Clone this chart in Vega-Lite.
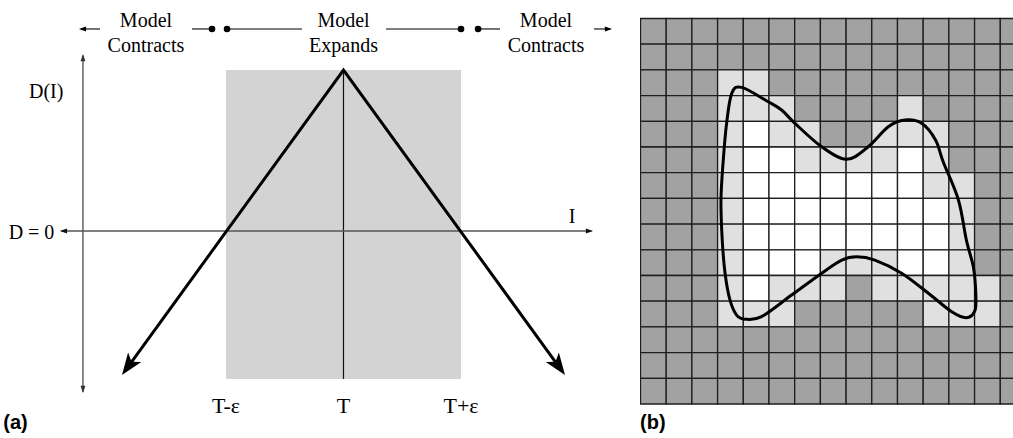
{
  "$schema": "https://vega.github.io/schema/vega-lite/v6.json",
  "padding": 0,
  "spacing": 20,
  "bounds": "flush",
  "background": "white",
  "config": {"view": {"stroke": null}},
  "hconcat": [
    {
      "width": 620,
      "height": 438,
      "encoding": {
        "x": {"field": "i", "type": "quantitative", "scale": {"domain": [-2.923, 2.353], "nice": false, "zero": false}, "axis": null},
        "y": {"field": "d", "type": "quantitative", "scale": {"domain": [-1.286, 1.435], "nice": false, "zero": false}, "axis": null}
      },
      "layer": [
        {
          "data": {"values": [{"i": -1, "i2": 1, "d": -0.919, "d2": 1}]},
          "mark": {"type": "rect", "color": "#d3d3d3"},
          "encoding": {"x2": {"field": "i2"}, "y2": {"field": "d2"}}
        },
        {
          "data": {"values": [{"i": 0, "i2": 0, "d": -0.919, "d2": 1}]},
          "mark": {"type": "rule", "color": "#111111", "strokeWidth": 1.2},
          "encoding": {"x2": {"field": "i2"}, "y2": {"field": "d2"}}
        },
        {
          "data": {"values": [
            {"i": -2.217, "i2": -2.217, "d": 1.09, "d2": -1.0},
            {"i": -2.4, "i2": 2.11, "d": 0, "d2": 0}
          ]},
          "mark": {"type": "rule", "color": "#555555", "strokeWidth": 1.4},
          "encoding": {"x2": {"field": "i2"}, "y2": {"field": "d2"}}
        },
        {
          "data": {"values": [{"i": -2.217, "d": 1.099}]},
          "mark": {"type": "point", "shape": "M0,0 L0.45,1.3 L-0.45,1.3 Z", "size": 120, "angle": 0, "filled": true, "color": "#333333", "opacity": 1, "strokeWidth": 0}
        },
        {
          "data": {"values": [{"i": -2.217, "d": -1.006}]},
          "mark": {"type": "point", "shape": "M0,0 L0.45,1.3 L-0.45,1.3 Z", "size": 120, "angle": 180, "filled": true, "color": "#333333", "opacity": 1, "strokeWidth": 0}
        },
        {
          "data": {"values": [{"i": -2.413, "d": 0}]},
          "mark": {"type": "point", "shape": "M0,0 L0.45,1.3 L-0.45,1.3 Z", "size": 120, "angle": 270, "filled": true, "color": "#111111", "opacity": 1, "strokeWidth": 0}
        },
        {
          "data": {"values": [{"i": 2.123, "d": 0}]},
          "mark": {"type": "point", "shape": "M0,0 L0.45,1.3 L-0.45,1.3 Z", "size": 120, "angle": 90, "filled": true, "color": "#111111", "opacity": 1, "strokeWidth": 0}
        },
        {
          "data": {"values": [
            {"i": -2.072, "i2": -2.235, "d": 1.255, "d2": 1.255},
            {"i": -1.289, "i2": -1.119, "d": 1.255, "d2": 1.255},
            {"i": -0.991, "i2": -0.353, "d": 1.255, "d2": 1.255},
            {"i": 0.362, "i2": 1.0, "d": 1.255, "d2": 1.255},
            {"i": 1.145, "i2": 1.332, "d": 1.255, "d2": 1.255},
            {"i": 2.132, "i2": 2.27, "d": 1.255, "d2": 1.255}
          ]},
          "mark": {"type": "rule", "color": "#000000", "strokeWidth": 1.1},
          "encoding": {"x2": {"field": "i2"}, "y2": {"field": "d2"}}
        },
        {
          "data": {"values": [{"i": -2.251, "d": 1.255}]},
          "mark": {"type": "point", "shape": "M0,0 L0.45,1.3 L-0.45,1.3 Z", "size": 120, "angle": 270, "filled": true, "color": "#000000", "opacity": 1, "strokeWidth": 0}
        },
        {
          "data": {"values": [{"i": 2.285, "d": 1.255}]},
          "mark": {"type": "point", "shape": "M0,0 L0.45,1.3 L-0.45,1.3 Z", "size": 120, "angle": 90, "filled": true, "color": "#000000", "opacity": 1, "strokeWidth": 0}
        },
        {
          "data": {"values": [
            {"i": -1.119, "d": 1.255}, {"i": -0.991, "d": 1.255},
            {"i": 1.0, "d": 1.255}, {"i": 1.145, "d": 1.255}
          ]},
          "mark": {"type": "circle", "size": 44, "color": "#000000", "opacity": 1}
        },
        {
          "data": {"values": [
            {"k": 1, "i": -1.84, "d": -0.85},
            {"k": 2, "i": 0, "d": 1},
            {"k": 3, "i": 1.84, "d": -0.85}
          ]},
          "mark": {"type": "line", "color": "#000000", "strokeWidth": 3, "strokeJoin": "miter", "strokeMiterLimit": 20},
          "encoding": {"order": {"field": "k", "type": "quantitative"}}
        },
        {
          "data": {"values": [{"i": -1.885, "d": -0.894}]},
          "mark": {"type": "point", "shape": "M0,0 L0.75,2 L0,1.5 L-0.75,2 Z", "size": 470, "angle": 215.9, "filled": true, "color": "#000000", "opacity": 1, "strokeWidth": 0}
        },
        {
          "data": {"values": [{"i": 1.885, "d": -0.894}]},
          "mark": {"type": "point", "shape": "M0,0 L0.75,2 L0,1.5 L-0.75,2 Z", "size": 470, "angle": 144.1, "filled": true, "color": "#000000", "opacity": 1, "strokeWidth": 0}
        },
        {
          "data": {"values": [
            {"i": -1.681, "d": 1.304, "t": "Model"},
            {"i": -1.681, "d": 1.152, "t": "Contracts"},
            {"i": 0, "d": 1.304, "t": "Model"},
            {"i": 0, "d": 1.152, "t": "Expands"},
            {"i": 1.723, "d": 1.304, "t": "Model"},
            {"i": 1.723, "d": 1.152, "t": "Contracts"},
            {"i": -2.53, "d": 0.863, "t": "D(I)"},
            {"i": -2.655, "d": -0.01, "t": "D = 0"},
            {"i": 1.945, "d": 0.09, "t": "I"}
          ]},
          "mark": {"type": "text", "font": "Liberation Serif", "fontSize": 20, "align": "center", "baseline": "middle", "color": "#000000"},
          "encoding": {"text": {"field": "t"}}
        },
        {
          "data": {"values": [
            {"i": -1, "d": -1.09, "t": "T-ε"},
            {"i": 0, "d": -1.09, "t": "T"},
            {"i": 1, "d": -1.09, "t": "T+ε"}
          ]},
          "mark": {"type": "text", "font": "Liberation Serif", "fontSize": 22, "align": "center", "baseline": "middle", "color": "#000000"},
          "encoding": {"text": {"field": "t"}}
        },
        {
          "data": {"values": [{"i": -2.895, "d": -1.193, "t": "(a)"}]},
          "mark": {"type": "text", "font": "Liberation Sans", "fontSize": 20, "fontWeight": "bold", "align": "left", "baseline": "middle", "color": "#000000"},
          "encoding": {"text": {"field": "t"}}
        }
      ]
    },
    {
      "width": 373,
      "height": 438,
      "layer": [
        {
          "data": {"values": [
            {"c":0,"r":0,"s":"d"},{"c":1,"r":0,"s":"d"},{"c":2,"r":0,"s":"d"},{"c":3,"r":0,"s":"d"},{"c":4,"r":0,"s":"d"},{"c":5,"r":0,"s":"d"},{"c":6,"r":0,"s":"d"},{"c":7,"r":0,"s":"d"},{"c":8,"r":0,"s":"d"},{"c":9,"r":0,"s":"d"},{"c":10,"r":0,"s":"d"},{"c":11,"r":0,"s":"d"},{"c":12,"r":0,"s":"d"},{"c":13,"r":0,"s":"d"},{"c":14,"r":0,"s":"d"},
            {"c":0,"r":1,"s":"d"},{"c":1,"r":1,"s":"d"},{"c":2,"r":1,"s":"d"},{"c":3,"r":1,"s":"d"},{"c":4,"r":1,"s":"d"},{"c":5,"r":1,"s":"d"},{"c":6,"r":1,"s":"d"},{"c":7,"r":1,"s":"d"},{"c":8,"r":1,"s":"d"},{"c":9,"r":1,"s":"d"},{"c":10,"r":1,"s":"d"},{"c":11,"r":1,"s":"d"},{"c":12,"r":1,"s":"d"},{"c":13,"r":1,"s":"d"},{"c":14,"r":1,"s":"d"},
            {"c":0,"r":2,"s":"d"},{"c":1,"r":2,"s":"d"},{"c":2,"r":2,"s":"d"},{"c":3,"r":2,"s":"l"},{"c":4,"r":2,"s":"l"},{"c":5,"r":2,"s":"d"},{"c":6,"r":2,"s":"d"},{"c":7,"r":2,"s":"d"},{"c":8,"r":2,"s":"d"},{"c":9,"r":2,"s":"d"},{"c":10,"r":2,"s":"d"},{"c":11,"r":2,"s":"d"},{"c":12,"r":2,"s":"d"},{"c":13,"r":2,"s":"d"},{"c":14,"r":2,"s":"d"},
            {"c":0,"r":3,"s":"d"},{"c":1,"r":3,"s":"d"},{"c":2,"r":3,"s":"d"},{"c":3,"r":3,"s":"l"},{"c":4,"r":3,"s":"l"},{"c":5,"r":3,"s":"l"},{"c":6,"r":3,"s":"d"},{"c":7,"r":3,"s":"d"},{"c":8,"r":3,"s":"d"},{"c":9,"r":3,"s":"d"},{"c":10,"r":3,"s":"l"},{"c":11,"r":3,"s":"d"},{"c":12,"r":3,"s":"d"},{"c":13,"r":3,"s":"d"},{"c":14,"r":3,"s":"d"},
            {"c":0,"r":4,"s":"d"},{"c":1,"r":4,"s":"d"},{"c":2,"r":4,"s":"d"},{"c":3,"r":4,"s":"l"},{"c":4,"r":4,"s":"w"},{"c":5,"r":4,"s":"l"},{"c":6,"r":4,"s":"l"},{"c":7,"r":4,"s":"d"},{"c":8,"r":4,"s":"d"},{"c":9,"r":4,"s":"l"},{"c":10,"r":4,"s":"l"},{"c":11,"r":4,"s":"l"},{"c":12,"r":4,"s":"d"},{"c":13,"r":4,"s":"d"},{"c":14,"r":4,"s":"d"},
            {"c":0,"r":5,"s":"d"},{"c":1,"r":5,"s":"d"},{"c":2,"r":5,"s":"d"},{"c":3,"r":5,"s":"l"},{"c":4,"r":5,"s":"w"},{"c":5,"r":5,"s":"w"},{"c":6,"r":5,"s":"l"},{"c":7,"r":5,"s":"l"},{"c":8,"r":5,"s":"l"},{"c":9,"r":5,"s":"l"},{"c":10,"r":5,"s":"w"},{"c":11,"r":5,"s":"l"},{"c":12,"r":5,"s":"d"},{"c":13,"r":5,"s":"d"},{"c":14,"r":5,"s":"d"},
            {"c":0,"r":6,"s":"d"},{"c":1,"r":6,"s":"d"},{"c":2,"r":6,"s":"d"},{"c":3,"r":6,"s":"l"},{"c":4,"r":6,"s":"w"},{"c":5,"r":6,"s":"w"},{"c":6,"r":6,"s":"w"},{"c":7,"r":6,"s":"w"},{"c":8,"r":6,"s":"w"},{"c":9,"r":6,"s":"w"},{"c":10,"r":6,"s":"w"},{"c":11,"r":6,"s":"l"},{"c":12,"r":6,"s":"l"},{"c":13,"r":6,"s":"d"},{"c":14,"r":6,"s":"d"},
            {"c":0,"r":7,"s":"d"},{"c":1,"r":7,"s":"d"},{"c":2,"r":7,"s":"d"},{"c":3,"r":7,"s":"l"},{"c":4,"r":7,"s":"w"},{"c":5,"r":7,"s":"w"},{"c":6,"r":7,"s":"w"},{"c":7,"r":7,"s":"w"},{"c":8,"r":7,"s":"w"},{"c":9,"r":7,"s":"w"},{"c":10,"r":7,"s":"w"},{"c":11,"r":7,"s":"w"},{"c":12,"r":7,"s":"l"},{"c":13,"r":7,"s":"d"},{"c":14,"r":7,"s":"d"},
            {"c":0,"r":8,"s":"d"},{"c":1,"r":8,"s":"d"},{"c":2,"r":8,"s":"d"},{"c":3,"r":8,"s":"l"},{"c":4,"r":8,"s":"w"},{"c":5,"r":8,"s":"w"},{"c":6,"r":8,"s":"w"},{"c":7,"r":8,"s":"w"},{"c":8,"r":8,"s":"w"},{"c":9,"r":8,"s":"w"},{"c":10,"r":8,"s":"w"},{"c":11,"r":8,"s":"w"},{"c":12,"r":8,"s":"l"},{"c":13,"r":8,"s":"d"},{"c":14,"r":8,"s":"d"},
            {"c":0,"r":9,"s":"d"},{"c":1,"r":9,"s":"d"},{"c":2,"r":9,"s":"d"},{"c":3,"r":9,"s":"l"},{"c":4,"r":9,"s":"w"},{"c":5,"r":9,"s":"w"},{"c":6,"r":9,"s":"w"},{"c":7,"r":9,"s":"l"},{"c":8,"r":9,"s":"l"},{"c":9,"r":9,"s":"l"},{"c":10,"r":9,"s":"w"},{"c":11,"r":9,"s":"w"},{"c":12,"r":9,"s":"l"},{"c":13,"r":9,"s":"d"},{"c":14,"r":9,"s":"d"},
            {"c":0,"r":10,"s":"d"},{"c":1,"r":10,"s":"d"},{"c":2,"r":10,"s":"d"},{"c":3,"r":10,"s":"l"},{"c":4,"r":10,"s":"w"},{"c":5,"r":10,"s":"l"},{"c":6,"r":10,"s":"l"},{"c":7,"r":10,"s":"l"},{"c":8,"r":10,"s":"d"},{"c":9,"r":10,"s":"l"},{"c":10,"r":10,"s":"l"},{"c":11,"r":10,"s":"l"},{"c":12,"r":10,"s":"l"},{"c":13,"r":10,"s":"l"},{"c":14,"r":10,"s":"d"},
            {"c":0,"r":11,"s":"d"},{"c":1,"r":11,"s":"d"},{"c":2,"r":11,"s":"d"},{"c":3,"r":11,"s":"l"},{"c":4,"r":11,"s":"l"},{"c":5,"r":11,"s":"l"},{"c":6,"r":11,"s":"d"},{"c":7,"r":11,"s":"d"},{"c":8,"r":11,"s":"d"},{"c":9,"r":11,"s":"d"},{"c":10,"r":11,"s":"d"},{"c":11,"r":11,"s":"l"},{"c":12,"r":11,"s":"l"},{"c":13,"r":11,"s":"l"},{"c":14,"r":11,"s":"d"},
            {"c":0,"r":12,"s":"d"},{"c":1,"r":12,"s":"d"},{"c":2,"r":12,"s":"d"},{"c":3,"r":12,"s":"d"},{"c":4,"r":12,"s":"d"},{"c":5,"r":12,"s":"d"},{"c":6,"r":12,"s":"d"},{"c":7,"r":12,"s":"d"},{"c":8,"r":12,"s":"d"},{"c":9,"r":12,"s":"d"},{"c":10,"r":12,"s":"d"},{"c":11,"r":12,"s":"d"},{"c":12,"r":12,"s":"d"},{"c":13,"r":12,"s":"d"},{"c":14,"r":12,"s":"d"},
            {"c":0,"r":13,"s":"d"},{"c":1,"r":13,"s":"d"},{"c":2,"r":13,"s":"d"},{"c":3,"r":13,"s":"d"},{"c":4,"r":13,"s":"d"},{"c":5,"r":13,"s":"d"},{"c":6,"r":13,"s":"d"},{"c":7,"r":13,"s":"d"},{"c":8,"r":13,"s":"d"},{"c":9,"r":13,"s":"d"},{"c":10,"r":13,"s":"d"},{"c":11,"r":13,"s":"d"},{"c":12,"r":13,"s":"d"},{"c":13,"r":13,"s":"d"},{"c":14,"r":13,"s":"d"},
            {"c":0,"r":14,"s":"d"},{"c":1,"r":14,"s":"d"},{"c":2,"r":14,"s":"d"},{"c":3,"r":14,"s":"d"},{"c":4,"r":14,"s":"d"},{"c":5,"r":14,"s":"d"},{"c":6,"r":14,"s":"d"},{"c":7,"r":14,"s":"d"},{"c":8,"r":14,"s":"d"},{"c":9,"r":14,"s":"d"},{"c":10,"r":14,"s":"d"},{"c":11,"r":14,"s":"d"},{"c":12,"r":14,"s":"d"},{"c":13,"r":14,"s":"d"},{"c":14,"r":14,"s":"d"}
          ]},
          "mark": {"type": "rect", "stroke": "#1e1e1e", "strokeWidth": 1.3, "clip": true, "opacity": 1},
          "encoding": {
            "x": {"field": "c", "type": "quantitative", "bin": {"binned": true, "step": 1}, "scale": {"domain": [0, 14.514], "nice": false, "zero": false}, "axis": null},
            "y": {"field": "r", "type": "quantitative", "bin": {"binned": true, "step": 1}, "scale": {"domain": [-0.7, 16.342], "nice": false, "zero": false, "reverse": true}, "axis": null},
            "color": {"field": "s", "type": "nominal", "scale": {"domain": ["d", "l", "w"], "range": ["#a2a2a2", "#e0e0e0", "#ffffff"]}, "legend": null}
          }
        },
        {
          "data": {"values": [
            {"k":1,"c":3.96,"r":2.70},{"k":2,"c":4.99,"r":3.26},{"k":3,"c":5.51,"r":3.58},{"k":4,"c":6.03,"r":4.10},
            {"k":5,"c":7.07,"r":5.01},{"k":6,"c":8.04,"r":5.50},{"k":7,"c":8.88,"r":5.01},{"k":8,"c":9.66,"r":4.23},
            {"k":9,"c":10.31,"r":3.97},{"k":10,"c":10.96,"r":4.10},{"k":11,"c":11.50,"r":4.75},{"k":12,"c":11.80,"r":5.60},
            {"k":13,"c":12.39,"r":7.08},{"k":14,"c":12.70,"r":8.64},{"k":15,"c":12.97,"r":9.68},{"k":16,"c":13.06,"r":10.58},
            {"k":17,"c":13.04,"r":11.36},{"k":18,"c":12.71,"r":11.66},{"k":19,"c":12.13,"r":11.43},{"k":20,"c":11.22,"r":10.71},
            {"k":21,"c":10.18,"r":9.93},{"k":22,"c":9.14,"r":9.42},{"k":23,"c":8.43,"r":9.29},{"k":24,"c":7.85,"r":9.42},
            {"k":25,"c":7.07,"r":9.93},{"k":26,"c":5.90,"r":10.78},{"k":27,"c":4.73,"r":11.62},{"k":28,"c":4.09,"r":11.72},
            {"k":29,"c":3.76,"r":11.56},{"k":30,"c":3.50,"r":10.97},{"k":31,"c":3.31,"r":9.93},{"k":32,"c":3.20,"r":8.64},
            {"k":33,"c":3.15,"r":7.08},{"k":34,"c":3.24,"r":5.53},{"k":35,"c":3.37,"r":4.10},{"k":36,"c":3.57,"r":2.93}
          ]},
          "mark": {"type": "line", "interpolate": "cardinal-closed", "color": "#000000", "strokeWidth": 3},
          "encoding": {
            "x": {"field": "c", "type": "quantitative", "scale": {"domain": [0, 14.514], "nice": false, "zero": false}, "axis": null},
            "y": {"field": "r", "type": "quantitative", "scale": {"domain": [-0.7, 16.342], "nice": false, "zero": false, "reverse": true}, "axis": null},
            "order": {"field": "k", "type": "quantitative"}
          }
        },
        {
          "data": {"values": [{"c": 0.0, "r": 15.76, "t": "(b)"}]},
          "mark": {"type": "text", "font": "Liberation Sans", "fontSize": 20, "fontWeight": "bold", "align": "left", "baseline": "middle", "color": "#000000"},
          "encoding": {
            "x": {"field": "c", "type": "quantitative", "scale": {"domain": [0, 14.514], "nice": false, "zero": false}, "axis": null},
            "y": {"field": "r", "type": "quantitative", "scale": {"domain": [-0.7, 16.342], "nice": false, "zero": false, "reverse": true}, "axis": null},
            "text": {"field": "t"}
          }
        }
      ]
    }
  ]
}
